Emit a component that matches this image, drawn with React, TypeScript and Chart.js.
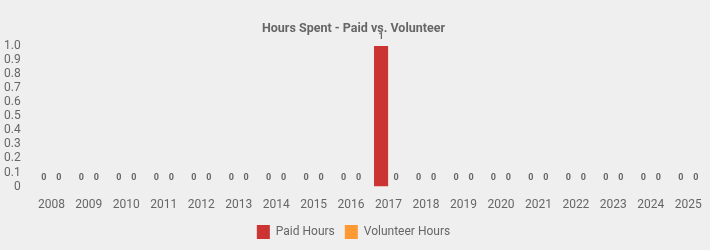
import React, { useEffect, useRef } from "react";
import { Chart, registerables } from "chart.js";

Chart.register(...registerables);

const categories = ["2008","2009","2010","2011","2012","2013","2014","2015","2016","2017","2018","2019","2020","2021","2022","2023","2024","2025"];
const paidHours = [0,0,0,0,0,0,0,0,0,1,0,0,0,0,0,0,0,0];
const volunteerHours = [0,0,0,0,0,0,0,0,0,0,0,0,0,0,0,0,0,0];

const labelPlugin = {
  id: "valueLabels",
  afterDatasetsDraw(chart: any) {
    const ctx = chart.ctx;
    ctx.save();
    ctx.font = "bold 9px Roboto, 'Liberation Sans', sans-serif";
    ctx.fillStyle = "#666666";
    ctx.textAlign = "center";
    ctx.textBaseline = "middle";
    chart.data.datasets.forEach((ds: any, i: number) => {
      const meta = chart.getDatasetMeta(i);
      meta.data.forEach((bar: any, j: number) => {
        ctx.fillText(String(ds.data[j]), bar.x, bar.y - 9);
      });
    });
    ctx.restore();
  },
};

const bgPlugin = {
  id: "bg",
  beforeDraw(chart: any) {
    const ctx = chart.ctx;
    ctx.save();
    ctx.fillStyle = "#efefef";
    ctx.fillRect(0, 0, chart.width, chart.height);
    ctx.restore();
  },
};

export default function App() {
  const ref = useRef<HTMLCanvasElement>(null);
  useEffect(() => {
    if (!ref.current) return;
    Chart.defaults.font.family = "Roboto, 'Liberation Sans', sans-serif";
    const chart = new Chart(ref.current, {
      type: "bar",
      data: {
        labels: categories,
        datasets: [
          { label: "Paid Hours", data: paidHours, backgroundColor: "#cc3333", categoryPercentage: 0.8, barPercentage: 0.94 },
          { label: "Volunteer Hours", data: volunteerHours, backgroundColor: "#ff9933", categoryPercentage: 0.8, barPercentage: 0.94 },
        ],
      },
      options: {
        animation: false,
        responsive: false,
        layout: { padding: { top: 7, right: 3, left: 0, bottom: 1 } },
        plugins: {
          title: {
            display: true,
            text: "Hours Spent - Paid vs. Volunteer",
            color: "#666666",
            font: { size: 12.5, weight: "bold" },
            padding: { top: 14, bottom: 10 },
          },
          legend: {
            position: "bottom",
            labels: { color: "#666666", boxWidth: 13, boxHeight: 14, font: { size: 12 } },
          },
          tooltip: { enabled: false },
        },
        scales: {
          x: {
            grid: { display: false },
            border: { display: false },
            ticks: { color: "#666666", font: { size: 12 }, maxRotation: 0, autoSkip: false },
          },
          y: {
            min: 0,
            max: 1,
            grid: { display: false },
            border: { display: false },
            ticks: {
              stepSize: 0.1,
              autoSkip: false,
              color: "#666666",
              font: { size: 12 },
              padding: 4,
              callback: (v: any) => (Number(v) === 0 ? "0" : Number(v).toFixed(1)),
            },
          },
        },
      },
      plugins: [bgPlugin, labelPlugin],
    });
    return () => chart.destroy();
  }, []);
  return (
    <div style={{ position: "fixed", left: 0, top: 0, width: 710, height: 250 }}>
      <canvas ref={ref} width={710} height={250} style={{ display: "block" }} />
    </div>
  );
}
